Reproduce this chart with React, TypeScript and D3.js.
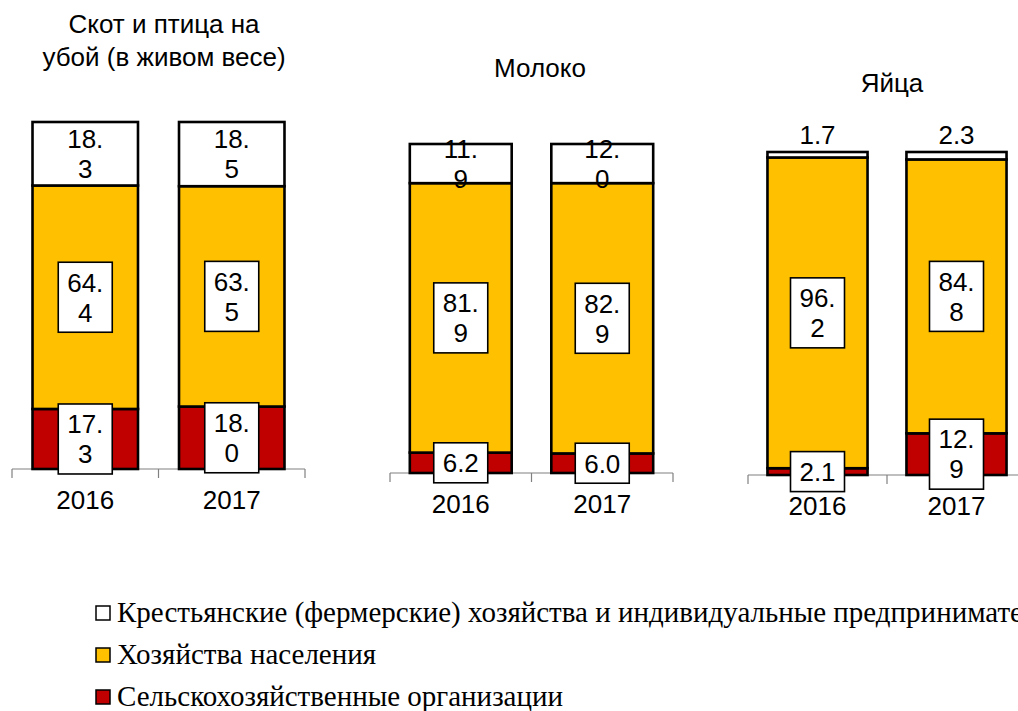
import React, { useEffect } from 'react';
import * as d3 from 'd3';

// categories / series
const panelTitles = [['Скот и птица на', 'убой (в живом весе)'], ['Молоко'], ['Яйца']];
const years = ['2016', '2017'];
const seriesNames = [
  'Крестьянские (фермерские) хозяйства и индивидуальные предприниматели',
  'Хозяйства населения',
  'Сельскохозяйственные организации',
];
// values per panel, [2016, 2017], %
const farmers = [[18.3, 18.5], [11.9, 12.0], [1.7, 2.3]];
const households = [[64.4, 63.5], [81.9, 82.9], [96.2, 84.8]];
const agriOrgs = [[17.3, 18.0], [6.2, 6.0], [2.1, 12.9]];

const seriesKeys = ['agri', 'house', 'farm'];
const colors: Record<string, string> = { farm: '#ffffff', house: '#ffc000', agri: '#c00000' };

// panel frames (axis extent + plot top)
const frames = [
  { x0: 12, x1: 305, top: 122, bottom: 469, titleX: 164, titleY: [33, 66] },
  { x0: 390, x1: 673, top: 144, bottom: 473, titleX: 540, titleY: [77] },
  { x0: 748, x1: 1026, top: 152, bottom: 475, titleX: 892, titleY: [92] },
];

const SANS = '"Liberation Sans", Arial, sans-serif';
const SERIF = '"Liberation Serif", "Times New Roman", serif';
const LINE = 30;

function splitLabel(v: number) {
  const s = v.toFixed(1);
  if (s.length <= 3) return [s];
  const i = s.indexOf('.');
  return [s.slice(0, i + 1), s.slice(i + 1)];
}

function Panel({ idx }: { idx: number }) {
  const f = frames[idx];
  const rows = years.map((y, j) => ({
    year: y,
    farm: farmers[idx][j],
    house: households[idx][j],
    agri: agriOrgs[idx][j],
  }));
  // 100% stacked, like the original
  const stack = d3.stack<any>().keys(seriesKeys).offset(d3.stackOffsetExpand)(rows);

  const x = d3.scaleBand().domain(years).range([f.x0, f.x1]).padding(0);
  const barW = x.bandwidth() * 0.72;
  const y = d3.scaleLinear().domain([0, 1]).range([f.bottom, f.top]);

  const ticks = [f.x0, ...years.map((yr) => (x(yr) as number) + x.bandwidth())];

  return (
    <g>
      {panelTitles[idx].map((t, i) => (
        <text key={i} x={f.titleX} y={f.titleY[i]} textAnchor="middle" fontSize={26} fontFamily={SANS}>
          {t}
        </text>
      ))}
      <line x1={f.x0} x2={f.x1} y1={f.bottom} y2={f.bottom} stroke="#808080" strokeWidth={1.2} />
      {ticks.map((t, i) => (
        <line key={i} x1={t} x2={t} y1={f.bottom} y2={f.bottom + 9} stroke="#808080" strokeWidth={1.2} />
      ))}
      {stack.map((s) =>
        s.map((d, j) => {
          const cx = (x(years[j]) as number) + x.bandwidth() / 2;
          return (
            <rect
              key={s.key + j}
              x={cx - barW / 2}
              y={y(d[1])}
              width={barW}
              height={y(d[0]) - y(d[1])}
              fill={colors[s.key]}
              stroke="#000"
              strokeWidth={2.6}
            />
          );
        })
      )}
      {stack.map((s) =>
        s.map((d, j) => {
          const cx = (x(years[j]) as number) + x.bandwidth() / 2;
          const v = (d.data as any)[s.key] as number;
          const lines = splitLabel(v);
          const boxed = s.key !== 'farm';
          let cy = (y(d[0]) + y(d[1])) / 2;
          if (s.key === 'farm' && v < 5) cy = y(d[1]) - 17;
          const h = lines.length * LINE + 10;
          return (
            <g key={'l' + s.key + j}>
              {boxed && (
                <rect x={cx - 27} y={cy - h / 2} width={54} height={h} fill="#fff" stroke="#000" strokeWidth={1.6} />
              )}
              {lines.map((ln, k) => (
                <text
                  key={k}
                  x={cx}
                  y={cy - ((lines.length - 1) * LINE) / 2 + k * LINE + 9.3}
                  textAnchor="middle"
                  fontSize={26}
                  fontFamily={SANS}
                >
                  {ln}
                </text>
              ))}
            </g>
          );
        })
      )}
      {years.map((yr) => (
        <text
          key={yr}
          x={(x(yr) as number) + x.bandwidth() / 2}
          y={f.bottom + 40}
          textAnchor="middle"
          fontSize={26}
          fontFamily={SANS}
        >
          {yr}
        </text>
      ))}
    </g>
  );
}

export default function App() {
  useEffect(() => {
    document.body.style.margin = '0';
  }, []);

  const legendKeys = ['farm', 'house', 'agri'];
  const legendY = d3.scalePoint<number>().domain([0, 1, 2]).range([622, 706]);

  return (
    <svg width={1018} height={711} style={{ display: 'block', background: '#fff' }}>
      {frames.map((_, i) => (
        <Panel key={i} idx={i} />
      ))}
      {seriesNames.map((name, i) => {
        const by = legendY(i) as number;
        return (
          <g key={i}>
            <rect x={96} y={by - 16} width={14} height={14} fill={colors[legendKeys[i]]} stroke="#000" strokeWidth={1.5} />
            <text x={117} y={by} fontSize={29} fontFamily={SERIF}>
              {name}
            </text>
          </g>
        );
      })}
    </svg>
  );
}
